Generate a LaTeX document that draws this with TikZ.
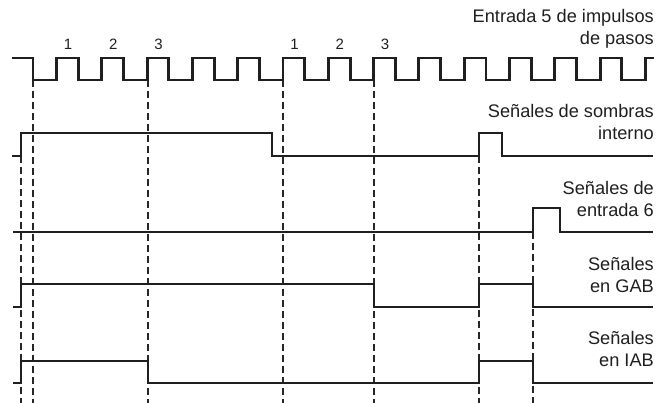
\documentclass[tikz,border=0pt]{standalone}
\usepackage{fontspec}
\setmainfont{Liberation Sans}
\usepackage{tikz}
\usetikzlibrary{positioning}

\begin{document}
\begin{tikzpicture}[x=1pt, y=-1pt,
    wave/.style={draw=black!88, line width=2.9pt, line join=miter},
    guide/.style={draw=black!85, line width=1.1pt, dash pattern=on 7pt off 4pt},
    lbl/.style={anchor=base east, align=right, inner sep=0pt,
        font=\fontsize{18.2}{22.5}\selectfont, text=black!88},
    num/.style={anchor=base, inner sep=0pt, font=\fontsize{15}{17}\selectfont, text=black!88}]
        \useasboundingbox (0,0) rectangle (665,403);

        % guide lines
        \foreach \gx/\gy in {21/156, 33/80, 148/80, 283/80, 374/80, 479/156, 533/232}
            \draw[guide] (\gx,\gy) -- (\gx,403);

        % pulse train
        \draw[wave] (12,58)
            \foreach \i in {0,...,13} {
                -- ({33+45.3*\i},58) -- ({33+45.3*\i},80)
                -- ({56.5+45.3*\i},80) -- ({56.5+45.3*\i},58)
            } -- (654,58);
        \foreach \i/\t in {0/1, 1/2, 2/3, 5/1, 6/2, 7/3}
            \node[num] (n\i) at ({68+45.3*\i},50) {\t};

        % signals
        \draw[wave] (12,156) -- (21,156) -- (21,133) -- (272,133) -- (272,156)
            -- (479,156) -- (479,133) -- (502,133) -- (502,156) -- (653,156);
        \draw[wave] (13,232) -- (533,232) -- (533,208) -- (560,208) -- (560,232) -- (653,232);
        \draw[wave] (13,307) -- (21,307) -- (21,284) -- (374,284) -- (374,307)
            -- (479,307) -- (479,284) -- (533,284) -- (533,307) -- (653,307);
        \draw[wave] (13,383) -- (21,383) -- (21,361) -- (148,361) -- (148,383)
            -- (479,383) -- (479,361) -- (533,361) -- (533,383) -- (653,383);

        % labels, anchored on their last line
        \node[lbl] (pulsos) at (654,45) {Entrada 5 de impulsos\\de pasos};
        \node[lbl] (sombras) at (654,140) {Señales de sombras\\interno};
        \node[lbl] (entrada) at (654,217) {Señales de\\entrada 6};
        \node[lbl] (gab) at (654,293) {Señales\\en GAB};
        \node[lbl] (iab) at (654,367) {Señales\\en IAB};
    \end{tikzpicture}
\end{document}
